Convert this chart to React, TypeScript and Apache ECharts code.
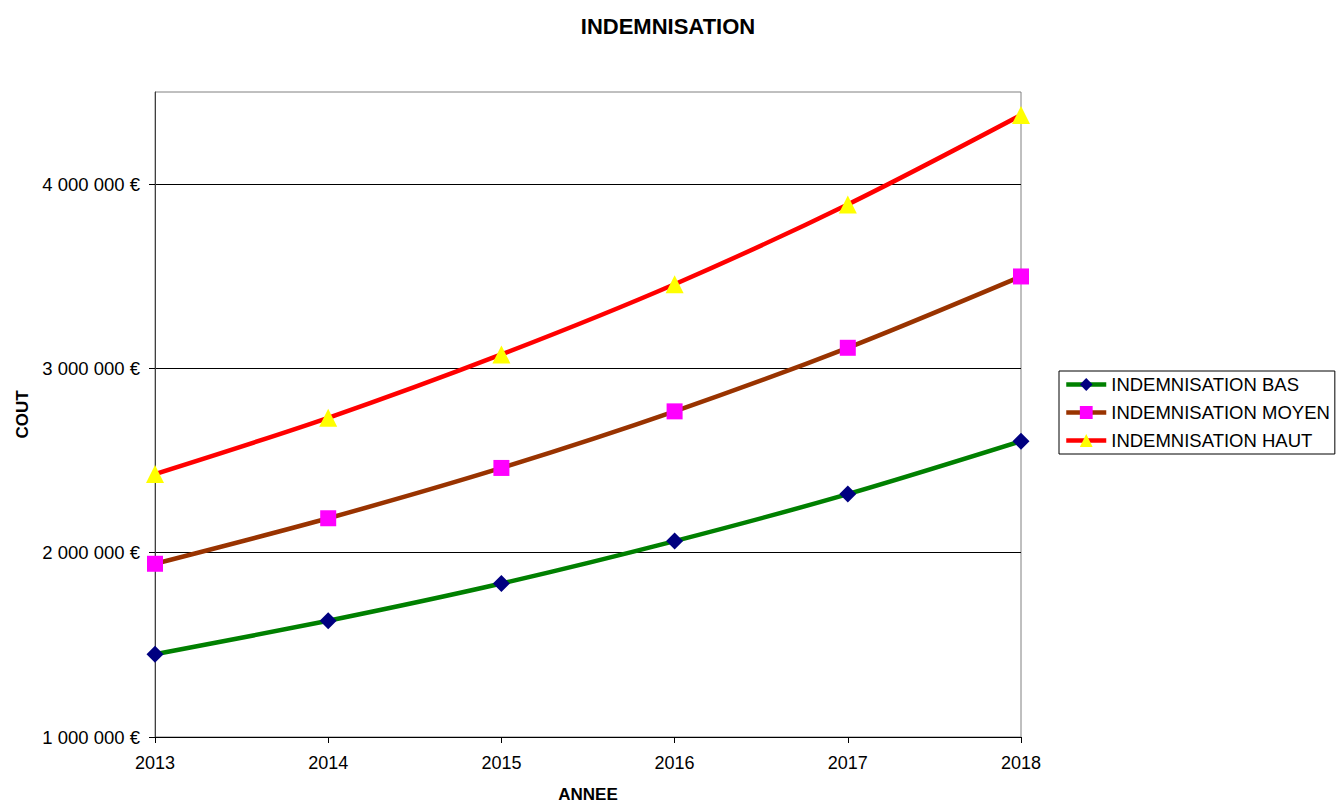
import React, { useEffect, useRef } from "react";
import * as echarts from "echarts";

const years = ["2013", "2014", "2015", "2016", "2017", "2018"];
const bas = [1449000, 1631000, 1833000, 2063000, 2318000, 2605000];
const moyen = [1940000, 2187000, 2460000, 2767000, 3112000, 3499000];
const haut = [2427000, 2732000, 3076000, 3457000, 3890000, 4375000];
const yTicks = [1000000, 2000000, 3000000, 4000000];

const FONT = "'Liberation Sans', Arial, sans-serif";

function fmt(v: number): string {
  const s = Math.round(v).toString();
  return s.replace(/\B(?=(\d{3})+(?!\d))/g, " ") + " €";
}

export default function App() {
  const ref = useRef<HTMLDivElement>(null);
  useEffect(() => {
    if (!ref.current) return;
    const chart = echarts.init(ref.current, undefined, { renderer: "svg" });
    const mk = (name: string, data: number[], line: string, sym: string, symCol: string, size: number) => ({
      name,
      type: "line",
      data,
      smooth: 0.3,
      symbol: sym,
      symbolSize: size,
      showAllSymbol: true,
      lineStyle: { color: line, width: 4.5 },
      itemStyle: { color: symCol, borderWidth: 0 },
      emphasis: { disabled: true },
    });
    chart.setOption({
      animation: false,
      backgroundColor: "#ffffff",
      textStyle: { fontFamily: FONT },
      title: {
        text: "INDEMNISATION",
        left: "center",
        top: 15,
        padding: 0,
        textStyle: { fontFamily: FONT, fontSize: 22, fontWeight: "bold", color: "#000" },
      },
      legend: {
        orient: "vertical",
        left: 1059,
        top: 371,
        itemWidth: 40,
        itemHeight: 16,
        itemGap: 9,
        padding: [4, 5, 4, 5],
        borderColor: "#000",
        borderWidth: 1,
        borderRadius: 0,
        lineStyle: { width: 4.5 },
        textStyle: { fontFamily: FONT, fontSize: 18.5, color: "#000", padding: [0, 0, 0, 0] },
        data: ["INDEMNISATION BAS", "INDEMNISATION MOYEN", "INDEMNISATION HAUT"],
      },
      grid: {
        left: 155,
        right: 315,
        top: 92,
        bottom: 66,
        show: true,
        borderColor: "#808080",
        borderWidth: 1,
        containLabel: false,
        outerBoundsMode: "none",
      },
      xAxis: {
        type: "category",
        data: years,
        boundaryGap: false,
        name: "ANNEE",
        nameLocation: "middle",
        nameGap: 49,
        nameTextStyle: { fontFamily: FONT, fontSize: 17, fontWeight: "bold", color: "#000" },
        axisLine: { lineStyle: { color: "#000", width: 1 } },
        axisTick: { show: true, length: 6, inside: false, lineStyle: { color: "#000" } },
        axisLabel: { fontFamily: FONT, fontSize: 18, color: "#000", margin: 17 },
        splitLine: { show: false },
      },
      yAxis: {
        type: "value",
        min: 1000000,
        max: 4500000,
        interval: 1000000,
        name: "COUT",
        nameLocation: "middle",
        nameGap: 124,
        nameTextStyle: { fontFamily: FONT, fontSize: 17, fontWeight: "bold", color: "#000" },
        axisLine: { show: true, lineStyle: { color: "#404040", width: 1 } },
        axisTick: { show: true, length: 6, lineStyle: { color: "#000" }, customValues: yTicks },
        axisLabel: {
          fontFamily: FONT,
          fontSize: 18.5,
          color: "#000",
          margin: 15,
          customValues: yTicks,
          formatter: (v: number) => fmt(v),
        },
        splitLine: { show: true, lineStyle: { color: "#000", width: 1 } },
      },
      series: [
        mk("INDEMNISATION BAS", bas, "#008000", "diamond", "#000080", 17),
        mk("INDEMNISATION MOYEN", moyen, "#993300", "rect", "#FF00FF", 16),
        mk("INDEMNISATION HAUT", haut, "#FF0000", "triangle", "#FFFF00", 18),
      ],
    });
    return () => chart.dispose();
  }, []);
  return <div ref={ref} style={{ width: 1336, height: 803, position: "absolute", left: 0, top: 0 }} />;
}
